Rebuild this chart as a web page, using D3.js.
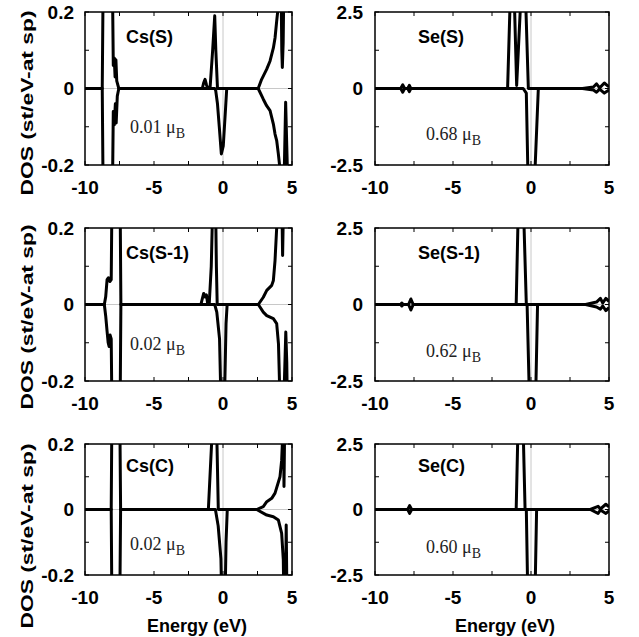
<!DOCTYPE html>
<html><head><meta charset="utf-8">
<script src="https://cdn.jsdelivr.net/npm/d3@7"></script>
<style>body{margin:0;background:#fff}svg{display:block}</style>
</head><body><svg id="c" width="639" height="637"></svg>
<script>
// ---- data (energy eV, DOS st/eV-at sp) ----
const xTicks = [-10, -5, 0, 5];
const csTicks = [-0.2, 0, 0.2];
const seTicks = [-2.5, 0, 2.5];
const titles = ["Cs(S)", "Se(S)", "Cs(S-1)", "Se(S-1)", "Cs(C)", "Se(C)"];
const moments = ["0.01", "0.68", "0.02", "0.62", "0.02", "0.60"];

const csS_up = [[-10,0],[-8.75,0],[-8.68,0.3],[-8.02,0.3],[-7.95,0.06],[-7.88,0.08],[-7.82,0.03],[-7.76,0.075],[-7.7,0.02],[-7.55,0],
  [-1.5,0],[-1.4,0.015],[-1.3,0.024],[-1.2,0.01],[-1.1,0],[-0.94,0],[-0.75,0.1],[-0.6,0.19],[-0.52,0.1],[-0.4,0],
  [2.55,0],[2.8,0.024],[3.16,0.05],[3.41,0.072],[3.65,0.106],[3.77,0.132],[3.89,0.176],[3.96,0.2],[4.05,0.25],[4.2,0.3],[4.26,0.1],[4.3,0.055],[4.36,0.12],[4.42,0.3],[5,0.3]];
const csS_dn = [[-10,0],[-8.75,0],[-8.68,-0.3],[-8.02,-0.3],[-7.95,-0.06],[-7.88,-0.095],[-7.8,-0.04],[-7.74,-0.09],[-7.66,-0.02],[-7.55,0],
  [-0.6,0],[-0.53,-0.005],[-0.4,-0.04],[-0.27,-0.1],[-0.12,-0.171],[0.02,-0.15],[0.19,-0.049],[0.27,0],
  [2.55,0],[2.92,-0.028],[3.16,-0.045],[3.41,-0.058],[3.65,-0.093],[3.77,-0.119],[3.89,-0.136],[4.01,-0.171],[4.13,-0.21],[4.35,-0.3],[4.45,-0.2],[4.54,-0.036],[4.62,-0.15],[4.73,-0.3],[5,-0.3]];

const seS_up = [[-10,0],[-8.35,0],[-8.22,0.12],[-8.1,0],[-7.9,0],[-7.8,0.1],[-7.7,0],
  [-1.5,0],[-1.3,3.5],[-1.1,3.5],[-0.92,0.1],[-0.6,3.5],[-0.38,3.5],[-0.17,0],
  [3.3,0],[4.0,0.05],[4.2,0.15],[4.4,0.02],[4.7,0.18],[5,0.05]];
const seS_dn = [[-10,0],[-8.35,0],[-8.22,-0.12],[-8.1,0],[-7.9,0],[-7.8,-0.1],[-7.7,0],
  [-0.5,0],[-0.3,-0.15],[-0.17,-3.5],[0.19,-3.5],[0.47,0],
  [3.3,0],[4.0,-0.05],[4.2,-0.12],[4.4,-0.02],[4.7,-0.15],[5,-0.05]];

const csS1_up = [[-10,0],[-8.6,0],[-8.5,0.02],[-8.4,0.065],[-8.3,0.07],[-8.2,0.06],[-8.1,0.065],[-8.04,0.3],[-7.46,0.3],[-7.4,0],
  [-1.6,0],[-1.5,0.015],[-1.4,0.029],[-1.3,0.02],[-1.2,0.025],[-1.1,0],[-1.0,0],[-0.85,0.1],[-0.72,0.3],[-0.55,0.3],[-0.48,0.1],[-0.42,0],
  [2.56,0],[2.92,0.019],[3.17,0.037],[3.53,0.05],[3.65,0.063],[3.77,0.115],[3.89,0.2],[3.95,0.3],[4.25,0.3],[4.32,0.128],[4.4,0.3],[5,0.3]];
const csS1_dn = [[-10,0],[-8.6,0],[-8.5,-0.03],[-8.4,-0.07],[-8.32,-0.1],[-8.25,-0.11],[-8.18,-0.08],[-8.1,-0.09],[-8.04,-0.3],[-7.46,-0.3],[-7.4,0],
  [-0.6,0],[-0.45,-0.02],[-0.25,-0.09],[-0.12,-0.3],[0.08,-0.3],[0.22,-0.05],[0.3,0],
  [2.56,0],[2.92,-0.02],[3.17,-0.029],[3.65,-0.037],[3.89,-0.05],[4.02,-0.103],[4.1,-0.21],[4.3,-0.3],[4.45,-0.2],[4.55,-0.072],[4.62,-0.15],[4.68,-0.3],[5,-0.3]];

const seS1_up = [[-10,0],[-8.35,0],[-8.28,0.05],[-8.2,0],[-7.85,0],[-7.7,0.18],[-7.55,0],
  [-0.95,0],[-0.8,3.5],[-0.5,3.5],[-0.3,0],
  [3.5,0],[4.2,0.08],[4.45,0.2],[4.6,0.05],[4.8,0.2],[5,0.1]];
const seS1_dn = [[-10,0],[-8.35,0],[-8.28,-0.05],[-8.2,0],[-7.85,0],[-7.7,-0.18],[-7.55,0],
  [-0.25,0],[-0.08,-3.5],[0.28,-3.5],[0.42,0],
  [3.5,0],[4.2,-0.08],[4.45,-0.15],[4.6,-0.05],[4.8,-0.2],[5,-0.1]];

const csC_up = [[-10,0],[-8.1,0],[-8.05,0.3],[-7.48,0.3],[-7.42,0],
  [-1.06,0],[-0.77,0.25],[-0.46,0.25],[-0.34,0],
  [2.44,0],[2.92,0.009],[3.17,0.024],[3.53,0.034],[3.77,0.05],[4.13,0.1],[4.25,0.15],[4.32,0.22],[4.38,0.3],[4.42,0.07],[4.48,0.3],[5,0.3]];
const csC_dn = [[-10,0],[-8.1,0],[-8.05,-0.3],[-7.48,-0.3],[-7.42,0],
  [-0.55,0],[-0.35,-0.05],[-0.15,-0.15],[-0.08,-0.3],[0.14,-0.3],[0.22,-0.1],[0.31,0],
  [2.44,0],[3.17,-0.017],[3.65,-0.022],[4.01,-0.032],[4.25,-0.073],[4.37,-0.154],[4.42,-0.3],[4.52,-0.3],[4.58,-0.047],[4.64,-0.3],[5,-0.3]];

const seC_up = [[-10,0],[-7.9,0],[-7.78,0.15],[-7.65,0],
  [-0.95,0],[-0.82,3.5],[-0.52,3.5],[-0.38,0],
  [3.8,0],[4.3,0.12],[4.45,0.02],[4.8,0.2],[5,0.1]];
const seC_dn = [[-10,0],[-7.9,0],[-7.78,-0.15],[-7.65,0],
  [-0.3,0],[-0.2,-3.5],[0.25,-3.5],[0.36,0],
  [3.8,0],[4.3,-0.15],[4.45,-0.02],[4.8,-0.15],[5,-0.05]];

// ---- layout ----
const cols = [{x0:85, x1:292, ymax:0.2, ticks:csTicks, minor:0.1, labelX:74, titleX:126, momX:130, eCx:197},
              {x0:375, x1:609, ymax:2.5, ticks:seTicks, minor:1.25, labelX:363, titleX:418, momX:426, eCx:505}];
const rows = [{y0:12, y1:165, titleY:43, momY:[133,140], ylabCy:103},
              {y0:228, y1:381, titleY:259, momY:[350,357], ylabCy:317},
              {y0:444, y1:575, titleY:472, momY:[550,553], ylabCy:536}];
const series = [[csS_up,csS_dn],[seS_up,seS_dn],[csS1_up,csS1_dn],[seS1_up,seS1_dn],[csC_up,csC_dn],[seC_up,seC_dn]];

const svg = d3.select("#c");
const SANS = "'Liberation Sans', Arial, Helvetica, sans-serif";
const SERIF = "'Liberation Serif', 'Times New Roman', serif";
const defs = svg.append("defs");

series.forEach((sp, i) => {
  const r = Math.floor(i/2), c = i%2;
  const C = cols[c], R = rows[r];
  const x = d3.scaleLinear().domain([-10,5]).range([C.x0, C.x1]);
  const y = d3.scaleLinear().domain([-C.ymax, C.ymax]).range([R.y1, R.y0]);
  const g = svg.append("g");
  const cid = "clip"+i;
  defs.append("clipPath").attr("id", cid).append("rect")
    .attr("x", C.x0).attr("y", R.y0).attr("width", C.x1-C.x0).attr("height", R.y1-R.y0);

  // faint zero lines
  g.append("line").attr("x1", x(0)).attr("x2", x(0)).attr("y1", R.y0).attr("y2", R.y1)
    .attr("stroke", "#c8c8c8").attr("stroke-width", 1);
  g.append("line").attr("x1", C.x0).attr("x2", C.x1).attr("y1", y(0)).attr("y2", y(0))
    .attr("stroke", "#c8c8c8").attr("stroke-width", 1);

  // inward ticks
  const xt = d3.range(-10, 5.001, 2.5);
  const yt = d3.range(-C.ymax, C.ymax + 1e-9, C.minor);
  const tk = g.append("g").attr("stroke", "#000").attr("stroke-width", 1);
  xt.forEach(v => {
    tk.append("line").attr("x1", x(v)).attr("x2", x(v)).attr("y1", R.y1).attr("y2", R.y1-4);
    tk.append("line").attr("x1", x(v)).attr("x2", x(v)).attr("y1", R.y0).attr("y2", R.y0+4);
  });
  yt.forEach(v => {
    tk.append("line").attr("x1", C.x0).attr("x2", C.x0+4).attr("y1", y(v)).attr("y2", y(v));
    tk.append("line").attr("x1", C.x1).attr("x2", C.x1-4).attr("y1", y(v)).attr("y2", y(v));
  });

  // curves
  const line = d3.line().x(d => x(d[0])).y(d => y(d[1]));
  const cg = g.append("g").attr("clip-path", `url(#${cid})`);
  sp.forEach(s => cg.append("path").attr("d", line(s)).attr("fill", "none")
    .attr("stroke", "#000").attr("stroke-width", 3).attr("stroke-linejoin", "round"));

  // frame
  g.append("rect").attr("x", C.x0).attr("y", R.y0).attr("width", C.x1-C.x0).attr("height", R.y1-R.y0)
    .attr("fill", "none").attr("stroke", "#000").attr("stroke-width", 1.5);

  // tick labels
  const fmt = v => (v === 0 ? "0" : String(v));
  C.ticks.forEach(v => g.append("text").attr("x", C.labelX).attr("y", y(v)).attr("dy", "0.35em")
    .attr("text-anchor", "end").attr("font-family", SANS).attr("font-weight", "bold").attr("font-size", 19)
    .text(fmt(v)));
  xTicks.forEach(v => g.append("text").attr("x", x(v)).attr("y", R.y1 + 22).attr("dy", "0.35em")
    .attr("text-anchor", "middle").attr("font-family", SANS).attr("font-weight", "bold").attr("font-size", 19)
    .text(fmt(v)));

  // title
  g.append("text").attr("x", C.titleX).attr("y", R.titleY).attr("font-family", SANS)
    .attr("font-weight", "bold").attr("font-size", 18).text(titles[i]);

  // moment annotation
  const t = g.append("text").attr("x", C.momX).attr("y", R.momY[c]).attr("font-family", SERIF)
    .attr("font-size", 18).attr("fill", "#222");
  t.append("tspan").text(moments[i] + " \u03BC");
  t.append("tspan").attr("dy", 5).attr("font-size", 14).text("B");

  // y axis label
  if (c === 0) {
    g.append("text").attr("transform", `translate(27,${R.ylabCy}) rotate(-90)`)
      .attr("text-anchor", "middle").attr("dy", "0.35em").attr("font-family", SANS)
      .attr("font-weight", "bold").attr("font-size", 17)
      .attr("textLength", 185).attr("lengthAdjust", "spacingAndGlyphs")
      .text("DOS (st/eV-at sp)");
  }
  if (r === 2) {
    g.append("text").attr("x", C.eCx).attr("y", 632).attr("text-anchor", "middle")
      .attr("font-family", SANS).attr("font-weight", "bold").attr("font-size", 18).text("Energy (eV)");
  }
});
</script></body></html>
